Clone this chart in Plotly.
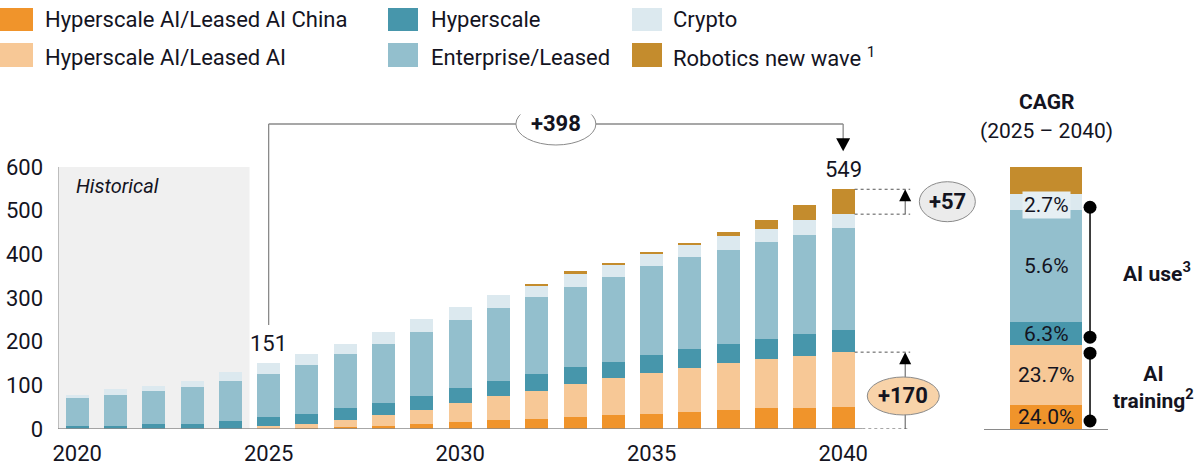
import plotly.graph_objects as go

# ---------------- data ----------------
years = list(range(2020, 2041))
china = [0, 0, 0, 0, 0, 2, 3, 4, 7, 11, 16, 21, 24, 28, 32, 35, 39, 43, 48, 48, 51]
hyperscale_ai = [0, 0, 0, 0, 0, 4, 9, 17, 25, 33, 44, 55, 64, 76, 84, 93, 101, 109, 112, 120, 125]
hyperscale = [7, 7, 12, 12, 19, 22, 23, 27, 28, 31, 35, 35, 38, 38, 38, 42, 43, 43, 46, 50, 51]
enterprise = [65, 72, 76, 84, 92, 99, 112, 123, 135, 147, 155, 167, 176, 183, 195, 203, 211, 215, 222, 227, 233]
crypto = [7, 12, 10, 15, 20, 24, 24, 24, 28, 29, 29, 29, 27, 31, 28, 28, 27, 32, 29, 33, 32]
robotics = [0, 0, 0, 0, 0, 0, 0, 0, 0, 0, 0, 0, 4, 5, 4, 5, 5, 8, 21, 36, 57]

series_names = ["Hyperscale AI/Leased AI China", "Hyperscale AI/Leased AI", "Hyperscale",
                "Enterprise/Leased", "Crypto", "Robotics new wave <sup>1</sup>"]
series_values = [china, hyperscale_ai, hyperscale, enterprise, crypto, robotics]
colors = ["#F0942B", "#F7C896", "#4796AB", "#93BFCD", "#DCE9EF", "#C48C2D"]

cagr_segments = [55, 137, 53, 256, 38, 61]
cagr_labels = ["24.0%", "23.7%", "6.3%", "5.6%", "2.7%", ""]

x_ticks = [2020, 2025, 2030, 2035, 2040]
y_ticks = [0, 100, 200, 300, 400, 500, 600]

# ---------------- geometry ----------------
W, H = 1200, 470
PX_PER_YEAR = 38.3
X0_PX = 58
BASE_PX = 429
PX_PER_UNIT = 0.43667
x_range = [2019.5, 2044.0]
y_range = [0, 720]
x_dom = [X0_PX / W, (X0_PX + (x_range[1] - x_range[0]) * PX_PER_YEAR) / W]
y_dom = [1 - BASE_PX / H, 1 - (BASE_PX - y_range[1] * PX_PER_UNIT) / H]

def px2v(dpx):
    return dpx / PX_PER_UNIT

def ypaper(py):
    return 1 - py / H

FONT = "Roboto"
TXT = "#14141f"
GRAY = "#8a8a8a"

totals = [sum(s) for s in zip(*series_values)]
i25, i40 = years.index(2025), years.index(2040)
train = [a + b for a, b in zip(china, hyperscale_ai)]

fig = go.Figure()
for name, vals, col in zip(series_names, series_values, colors):
    fig.add_trace(go.Bar(x=years, y=vals, name=name, marker=dict(color=col, line=dict(width=0)),
                         showlegend=False, xaxis="x", yaxis="y"))

for vals, col in zip(cagr_segments, colors):
    fig.add_trace(go.Bar(x=[0], y=[vals], marker=dict(color=col, line=dict(width=0)), width=0.573,
                         showlegend=False, xaxis="x2", yaxis="y"))

shapes = []
ann = []

def arrow_head(xref, x, y, up=True, w=7, h=13):
    if up:
        path = "M %g,%g L %g,%g L 0,0 Z" % (-w, -h, w, -h)
    else:
        path = "M %g,%g L %g,%g L 0,0 Z" % (-w, h, w, h)
    return dict(type="path", xref=xref, yref="y", xsizemode="pixel", ysizemode="pixel",
                xanchor=x, yanchor=y, path=path, fillcolor="#000", line=dict(width=0))

# historical shading
shapes.append(dict(type="rect", xref="x", yref="y", x0=2019.5, x1=2024.5, y0=0, y1=600,
                   fillcolor="#F0F0F0", line=dict(width=0), layer="below"))
shapes.append(dict(type="line", xref="x", yref="y", x0=2019.5, x1=2019.5, y0=0, y1=600,
                   line=dict(color=GRAY, width=1), layer="below"))
ann.append(dict(text="<i>Historical</i>", xref="x", yref="y", x=2019.93, y=px2v(BASE_PX - 186),
                xanchor="left", yanchor="middle", showarrow=False, font=dict(size=20, color=TXT)))

# baseline
shapes.append(dict(type="line", xref="x", yref="y", x0=2019.5, x1=2040.5, y0=0, y1=0,
                   line=dict(color=GRAY, width=1.5)))

# value labels 151 / 549
for i in (i25, i40):
    ann.append(dict(text=str(totals[i]), xref="x", yref="y", x=years[i], y=totals[i], yshift=5,
                    xanchor="center", yanchor="bottom", showarrow=False, font=dict(size=22, color=TXT)))

# +398 bracket
top_v = px2v(BASE_PX - 124)
tip_v = totals[i40] + px2v(38)
shapes.append(dict(type="line", xref="x", yref="y", x0=2025, x1=2025, y0=totals[i25] + px2v(38), y1=top_v,
                   line=dict(color=GRAY, width=1.3)))
shapes.append(dict(type="line", xref="x", yref="y", x0=2025, x1=2040, y0=top_v, y1=top_v,
                   line=dict(color=GRAY, width=1.3)))
shapes.append(dict(type="line", xref="x", yref="y", x0=2040, x1=2040, y0=top_v, y1=tip_v + px2v(10),
                   line=dict(color=GRAY, width=1.3)))
shapes.append(arrow_head("x", 2040, tip_v, up=False, w=7, h=13))
shapes.append(dict(type="circle", xref="x", yref="y", xsizemode="pixel", ysizemode="pixel",
                   xanchor=2032.5, yanchor=top_v, x0=-40, x1=40, y0=-21, y1=21,
                   fillcolor="white", line=dict(color=GRAY, width=1)))
ann.append(dict(text="<b>+%d</b>" % (totals[i40] - totals[i25]), xref="x", yref="y", x=2032.5, y=top_v,
                showarrow=False, font=dict(size=22, color=TXT)))

# +57 and +170 markers
ax_x = 2041.62
rob_low = totals[i40] - robotics[i40]
for yv in (totals[i40], rob_low, train[i40], 0):
    shapes.append(dict(type="line", xref="x", yref="y", x0=2040.5 if yv == 0 else 2040.3, x1=2041.75,
                       y0=yv, y1=yv, line=dict(color="#555", width=1, dash="dot")))
shapes.append(dict(type="line", xref="x", yref="y", x0=ax_x, x1=ax_x, y0=rob_low, y1=totals[i40] - px2v(10),
                   line=dict(color="#555", width=1)))
shapes.append(arrow_head("x", ax_x, totals[i40], up=True, w=6, h=12))
mid57 = (totals[i40] + rob_low) / 2
shapes.append(dict(type="circle", xref="x", yref="y", xsizemode="pixel", ysizemode="pixel",
                   xanchor=2042.72, yanchor=mid57, x0=-28, x1=28, y0=-20, y1=20,
                   fillcolor="#EBEBEB", line=dict(color=GRAY, width=1)))
ann.append(dict(text="<b>+%d</b>" % (robotics[i40] - robotics[i25]), xref="x", yref="y", x=2042.72, y=mid57,
                showarrow=False, font=dict(size=22, color=TXT)))

oval170_y = px2v(BASE_PX - 396)
shapes.append(dict(type="line", xref="x", yref="y", x0=ax_x, x1=ax_x, y0=0, y1=train[i40] - px2v(10),
                   line=dict(color="#555", width=1)))
shapes.append(arrow_head("x", ax_x, train[i40], up=True, w=6, h=12))
shapes.append(dict(type="circle", xref="x", yref="y", xsizemode="pixel", ysizemode="pixel",
                   xanchor=2041.57, yanchor=oval170_y, x0=-36, x1=36, y0=-19, y1=19,
                   fillcolor="#F8D3A9", line=dict(color=GRAY, width=1)))
ann.append(dict(text="<b>+%d</b>" % (train[i40] - train[i25]), xref="x", yref="y", x=2041.57, y=oval170_y,
                showarrow=False, font=dict(size=22, color=TXT)))

# CAGR bar labels
cum = 0
for seg, lab in zip(cagr_segments, cagr_labels):
    mid = cum + seg / 2
    cum += seg
    if lab:
        is_crypto = lab == "2.7%"
        ann.append(dict(text=lab, xref="x2", yref="y", x=0, y=mid, yshift=-3 if is_crypto else 0,
                        xanchor="center", showarrow=False, font=dict(size=21, color=TXT),
                        bgcolor="#E6EFF3" if is_crypto else None, borderpad=1))

cagr_cum = [sum(cagr_segments[:k + 1]) for k in range(len(cagr_segments))]
use_top = cagr_cum[3] + px2v(3)
use_bot = cagr_cum[1] + px2v(8)
tr_top = cagr_cum[1] - px2v(8)
tr_bot = px2v(8)
DOT_X = 0.355
for a, b in ((use_top, use_bot), (tr_top, tr_bot)):
    shapes.append(dict(type="line", xref="x2", yref="y", x0=DOT_X, x1=DOT_X, y0=a, y1=b,
                       line=dict(color="#000", width=1.5)))
    for yv in (a, b):
        shapes.append(dict(type="circle", xref="x2", yref="y", xsizemode="pixel", ysizemode="pixel",
                           xanchor=DOT_X, yanchor=yv, x0=-6.5, x1=6.5, y0=-6.5, y1=6.5,
                           fillcolor="#000", line=dict(width=0)))
ann.append(dict(text="<b>AI use<sup>3</sup></b>", xref="paper", yref="y", x=1157 / W, y=(use_top + use_bot) / 2,
                xanchor="center", showarrow=False, font=dict(size=21, color=TXT)))
ann.append(dict(text="<b>AI</b><br><b>training<sup>2</sup></b>", xref="paper", yref="y", x=1153 / W,
                y=(tr_top + tr_bot) / 2, xanchor="center", showarrow=False, font=dict(size=21, color=TXT)))
ann.append(dict(text="<b>CAGR</b>", xref="x2", yref="paper", x=0, y=ypaper(88), showarrow=False,
                xanchor="center", font=dict(size=21, color=TXT)))
ann.append(dict(text="(2025 \u2013 2040)", xref="x2", yref="paper", x=0, y=ypaper(117), showarrow=False,
                xanchor="center", font=dict(size=21, color=TXT)))

# manual legend (2 rows x 3 columns)
leg_cols = [(0, 33, 43), (388, 418, 429), (632, 662, 671)]
leg_rows = [(8, 31, 20), (43, 67, 57)]
legend_order = [(0, 0), (1, 0), (0, 1), (1, 1), (0, 2), (1, 2)]  # (row, col) for each series
for (r, c), name, col in zip(legend_order, series_names, colors):
    sx0, sx1, tx = leg_cols[c]
    ry0, ry1, ty = leg_rows[r]
    shapes.append(dict(type="rect", xref="paper", yref="paper", x0=sx0 / W, x1=sx1 / W,
                       y0=ypaper(ry1), y1=ypaper(ry0), fillcolor=col, line=dict(width=0)))
    ann.append(dict(text=name, xref="paper", yref="paper", x=tx / W, y=ypaper(ty), xanchor="left",
                    yanchor="middle", showarrow=False, font=dict(size=22, color=TXT)))

fig.update_layout(
    width=W, height=H, margin=dict(l=0, r=0, t=0, b=0, autoexpand=False),
    paper_bgcolor="white", plot_bgcolor="rgba(0,0,0,0)",
    barmode="stack", bargap=0.4,
    font=dict(family=FONT, color=TXT),
    showlegend=False,
    xaxis=dict(domain=x_dom, range=x_range, tickvals=x_ticks, showgrid=False, zeroline=False,
               showline=False, ticks="", tickfont=dict(size=22, color=TXT), anchor="y", automargin=False,
               ticklabelstandoff=9),
    xaxis2=dict(domain=[984 / W, 1108 / W], range=[-0.5, 0.5], showticklabels=False, showgrid=False,
                zeroline=False, showline=True, linecolor=GRAY, linewidth=1.2, ticks="", anchor="y",
                automargin=False),
    yaxis=dict(domain=y_dom, range=y_range, tickvals=y_ticks, showgrid=False, zeroline=False,
               showline=False, ticks="", tickfont=dict(size=22, color=TXT), ticklabelstandoff=14,
               automargin=False),
    shapes=shapes, annotations=ann,
)

fig.write_html("out.html", config={"displayModeBar": False},
               post_script="document.body.style.margin='0';")
